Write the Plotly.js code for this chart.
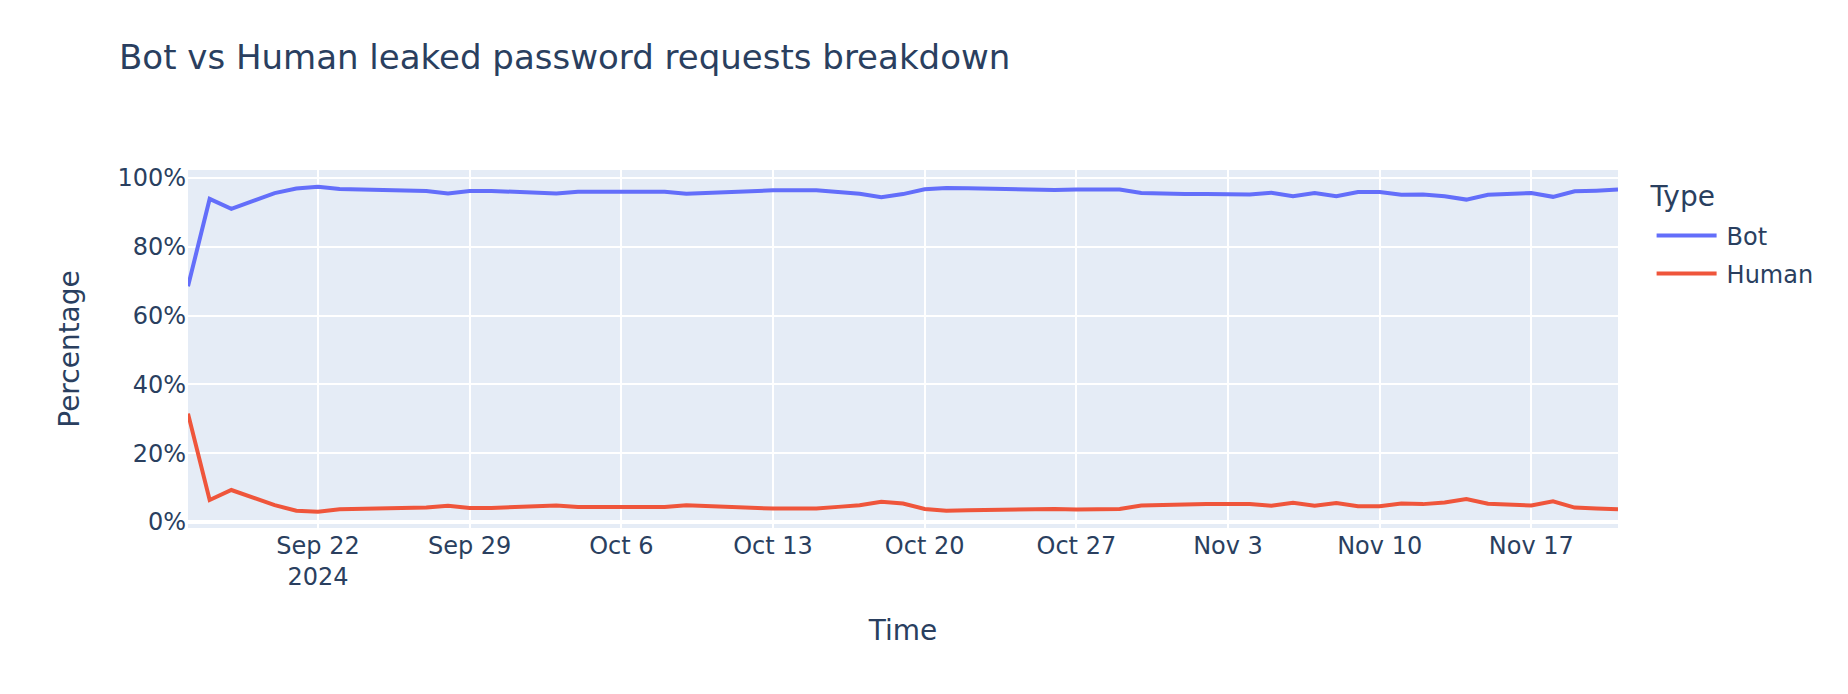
<!DOCTYPE html>
<html>
<head>
<meta charset="utf-8">
<script src="https://cdn.plot.ly/plotly-3.0.1.min.js"></script>
<style>
html,body{margin:0;padding:0;background:#fff;overflow:hidden;}
#wrap{width:1848px;height:694px;overflow:hidden;}
#chart{width:924px;height:347px;transform:scale(2);transform-origin:0 0;}
</style>
</head>
<body>
<div id="wrap"><div id="chart"></div></div>
<script>
const dates = [
"2024-09-16","2024-09-17","2024-09-18","2024-09-19","2024-09-20","2024-09-21","2024-09-22","2024-09-23","2024-09-24","2024-09-25",
"2024-09-26","2024-09-27","2024-09-28","2024-09-29","2024-09-30","2024-10-01","2024-10-02","2024-10-03","2024-10-04","2024-10-05",
"2024-10-06","2024-10-07","2024-10-08","2024-10-09","2024-10-10","2024-10-11","2024-10-12","2024-10-13","2024-10-14","2024-10-15",
"2024-10-16","2024-10-17","2024-10-18","2024-10-19","2024-10-20","2024-10-21","2024-10-22","2024-10-23","2024-10-24","2024-10-25",
"2024-10-26","2024-10-27","2024-10-28","2024-10-29","2024-10-30","2024-10-31","2024-11-01","2024-11-02","2024-11-03","2024-11-04",
"2024-11-05","2024-11-06","2024-11-07","2024-11-08","2024-11-09","2024-11-10","2024-11-11","2024-11-12","2024-11-13","2024-11-14",
"2024-11-15","2024-11-16","2024-11-17","2024-11-18","2024-11-19","2024-11-20","2024-11-21"];

const botPct = [
68.5,93.9,91.0,93.3,95.6,96.9,97.4,96.8,96.6,96.5,
96.3,96.2,95.5,96.2,96.2,96.0,95.8,95.5,96.0,96.0,
96.0,96.0,96.0,95.4,95.7,96.0,96.0,96.4,96.4,96.4,
95.9,95.4,94.4,95.3,96.7,97.1,97.0,96.9,96.7,96.3,
96.5,96.6,96.8,96.6,95.6,95.3,95.3,95.3,95.2,95.2,
95.7,94.7,95.6,94.7,95.9,95.9,95.1,95.2,94.7,93.7,
95.1,95.3,95.6,94.5,96.1,96.3,96.6];

const humanPct = [
31.5,6.4,9.3,7.1,4.9,3.3,3.0,3.7,3.8,3.9,
4.0,4.2,4.7,4.1,4.1,4.3,4.6,4.8,4.4,4.4,
4.4,4.4,4.4,4.9,4.6,4.3,4.3,3.9,3.9,3.9,
4.4,4.9,5.9,5.4,3.8,3.3,3.4,3.6,3.7,4.0,
3.8,3.6,3.5,3.8,4.8,5.1,5.1,5.2,5.2,5.2,
4.7,5.6,4.7,5.5,4.6,4.6,5.4,5.2,5.7,6.7,
5.3,5.1,4.8,6.0,4.2,3.9,3.7];

const seriesNames = ["Bot", "Human"];

const traces = [
  {x: dates, y: botPct, name: seriesNames[0], type: "scatter", mode: "lines",
   line: {color: "#636efa", width: 2}},
  {x: dates, y: humanPct, name: seriesNames[1], type: "scatter", mode: "lines",
   line: {color: "#EF553B", width: 2}}
];

const font = "DejaVu Sans, Verdana, sans-serif";
const layout = {
  width: 924, height: 347,
  font: {family: font, size: 12, color: "#2a3f5f"},
  paper_bgcolor: "#ffffff",
  plot_bgcolor: "#E5ECF6",
  margin: {l: 94, r: 114.5, t: 85, b: 82.5, pad: 0},
  title: {text: "Bot vs Human leaked password requests breakdown",
          font: {family: font, size: 17, color: "#2a3f5f"},
          x: 0.0644, xanchor: "left", xref: "container",
          y: 0.918, yanchor: "middle", yref: "container"},
  xaxis: {
    title: {text: "Time", font: {size: 14}, standoff: 15},
    type: "date",
    range: ["2024-09-16", "2024-11-21"],
    tick0: "2024-09-22", dtick: 7 * 86400000,
    showgrid: true, gridcolor: "#ffffff", gridwidth: 1,
    zeroline: false, showline: false, ticks: "",
    automargin: false
  },
  yaxis: {
    title: {text: "Percentage", font: {size: 14}, standoff: 15},
    range: [-1.74, 102.3],
    dtick: 20, tick0: 0, ticksuffix: "%",
    showgrid: true, gridcolor: "#ffffff", gridwidth: 1,
    zeroline: true, zerolinecolor: "#ffffff", zerolinewidth: 2,
    showline: false, ticks: "",
    automargin: false
  },
  legend: {
    title: {text: "Type"},
    x: 1.02, xanchor: "left", y: 1, yanchor: "top",
    tracegroupgap: 0
  },
  showlegend: true
};

Plotly.newPlot("chart", traces, layout, {displayModeBar: false, staticPlot: true});
</script>
</body>
</html>
